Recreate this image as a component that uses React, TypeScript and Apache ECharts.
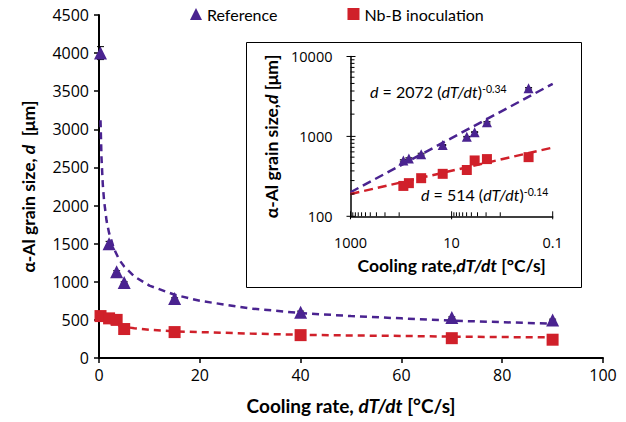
import React, { useEffect, useRef } from "react";
import * as echarts from "echarts";

// ---- data ----
const coolingRates = [0.3, 2, 3.5, 5, 15, 40, 70, 90];
const refGrain = [4000, 1500, 1130, 990, 780, 600, 530, 500];
const refErr = [85, 30, 15, 10, 10, 15, 10, 10];
const nbGrain = [550, 520, 500, 380, 340, 300, 260, 240];
const nbErr = [10, 10, 10, 10, 10, 10, 10, 10];

// dashed fit curves in the main plot
const fitX = [0.3, 0.5, 0.75, 1, 1.5, 2, 3, 4, 5, 7, 10, 15, 20, 30, 40, 50, 60, 70, 80, 90];
const refFitY = [3120, 2620, 2280, 2070, 1800, 1640, 1430, 1290, 1200, 1070, 950, 830, 750, 650, 590, 550, 520, 490, 470, 450];
const nbFitY = [610, 570, 540, 514, 485, 465, 440, 425, 410, 390, 370, 350, 340, 320, 305, 295, 290, 280, 275, 270];

// straight fit lines in the log-log inset (end points)
const insetFitX = [1000, 0.1];
const insetRefFitY = [200, 4550];
const insetNbFitY = [190, 725];

const xTicksMain = { min: 0, max: 100, interval: 20 };
const yTicksMain = { min: 0, max: 4500, interval: 500 };
const insetXMajor = [1000, 10, 0.1];
const insetYMajor = [100, 1000, 10000];

const PURPLE = "#4a2390";
const RED = "#d0202a";
const FONT = "Lato, 'Open Sans', sans-serif";
const NUMFONT = "'Open Sans', Lato, sans-serif";

function minorTicks(majors: number[]) {
  const s = [...majors].sort((a, b) => a - b);
  const out: number[] = [];
  for (let i = 0; i < s.length - 1; i++) {
    const a = s[i], b = s[i + 1];
    for (let k = 1; k < 10; k++) out.push(a + (k * (b - a)) / 10);
  }
  return out;
}

const titleStyle = (size: number) => ({
  fontFamily: FONT,
  fontSize: size,
  fontWeight: "bold",
  color: "#000",
  rich: { i: { fontFamily: FONT, fontSize: size, fontStyle: "italic", color: "#000" } },
});

export default function App() {
  const ref = useRef<HTMLDivElement>(null);
  useEffect(() => {
    if (!ref.current) return;
    const chart = echarts.init(ref.current, null, { renderer: "svg" });

    const refPts = coolingRates.map((x, i) => [x, refGrain[i]]);
    const nbPts = coolingRates.map((x, i) => [x, nbGrain[i]]);
    const refErrPts = coolingRates.map((x, i) => [x, refGrain[i], refErr[i]]);
    const nbErrPts = coolingRates.map((x, i) => [x, nbGrain[i], nbErr[i]]);

    const errRender = (params: any, api: any) => {
      const x = api.value(0), y = api.value(1), e = api.value(2);
      const hi = api.coord([x, y + e]);
      const lo = api.coord([x, y - e]);
      const w = 3.5;
      const st = { stroke: "#000", lineWidth: 1 };
      return {
        type: "group",
        children: [
          { type: "line", shape: { x1: hi[0], y1: hi[1], x2: lo[0], y2: lo[1] }, style: st },
          { type: "line", shape: { x1: hi[0] - w, y1: hi[1], x2: hi[0] + w, y2: hi[1] }, style: st },
          { type: "line", shape: { x1: lo[0] - w, y1: lo[1], x2: lo[0] + w, y2: lo[1] }, style: st },
        ],
      };
    };

    const xTickData = [
      ...insetXMajor.map((v) => [v, 1]),
      ...minorTicks(insetXMajor).map((v) => [v, 0]),
    ];
    const yTickData = [
      ...insetYMajor.map((v) => [v, 1]),
      ...minorTicks(insetYMajor).map((v) => [v, 0]),
    ];

    const xTickRender = (params: any, api: any) => {
      const v = api.value(0), major = api.value(1);
      const p = api.coord([v, 100]);
      return {
        type: "line",
        shape: { x1: p[0], y1: p[1] + (major ? 3 : 0), x2: p[0], y2: p[1] - (major ? 5 : 4) },
        style: { stroke: "#000", lineWidth: 1 },
      };
    };
    const yTickRender = (params: any, api: any) => {
      const v = api.value(0), major = api.value(1);
      const p = api.coord([1000, v]);
      return {
        type: "line",
        shape: { x1: p[0] - (major ? 4 : 0), y1: p[1], x2: p[0] + (major ? 5 : 4), y2: p[1] },
        style: { stroke: "#000", lineWidth: 1 },
      };
    };

    const eqRich = (color: string) => ({
      n: { fontFamily: FONT, fontSize: 16, color },
      i: { fontFamily: FONT, fontSize: 16, fontStyle: "italic", color },
      s: { fontFamily: FONT, fontSize: 10.5, color, verticalAlign: "top", lineHeight: 14 },
    });

    chart.setOption({
      animation: false,
      backgroundColor: "#fff",
      textStyle: { fontFamily: FONT },
      legend: {
        data: ["Reference", "Nb-B inoculation"],
        left: 190,
        top: 6,
        padding: 0,
        itemWidth: 12,
        itemHeight: 12,
        itemGap: 70,
        textStyle: { fontFamily: FONT, fontSize: 16, color: "#000" },
      },
      grid: [
        { left: 99, right: 23, top: 15, bottom: 64 },
        { left: 350.5, right: 73.3, top: 56.5, bottom: 205.7 },
      ],
      graphic: [
        {
          type: "rect",
          z: 0,
          shape: { x: 246.5, y: 42.5, width: 335, height: 245 },
          style: { fill: "none", stroke: "#000", lineWidth: 1 },
        },
        {
          type: "text",
          z: 10,
          left: 370,
          top: 83,
          style: {
            text: "{i|d}{n| = 2072 (}{i|dT/dt}{n|)}{s|-0.34}",
            rich: eqRich(PURPLE),
          },
        },
        {
          type: "text",
          z: 10,
          left: 421,
          top: 186,
          style: {
            text: "{i|d}{n| = 514 (}{i|dT/dt}{n|)}{s|-0.14}",
            rich: eqRich(RED),
          },
        },
      ],
      xAxis: [
        {
          type: "value",
          gridIndex: 0,
          ...xTicksMain,
          splitLine: { show: false },
          axisLine: { lineStyle: { color: "#000", width: 2 } },
          axisTick: { lineStyle: { color: "#000", width: 1.5 }, length: 5 },
          axisLabel: { fontFamily: NUMFONT, fontSize: 16, color: "#000", margin: 9 },
          name: "Cooling rate, {i|dT/dt} [°C/s]",
          nameLocation: "middle",
          nameGap: 38,
          nameTextStyle: titleStyle(19),
        },
        {
          type: "log",
          gridIndex: 1,
          logBase: 10,
          min: 0.1,
          max: 1000,
          inverse: true,
          splitLine: { show: false },
          axisLine: { lineStyle: { color: "#000", width: 1.5 } },
          axisTick: { show: false },
          minorTick: { show: false },
          axisLabel: {
            fontFamily: NUMFONT,
            fontSize: 14.5,
            color: "#000",
            margin: 19,
            formatter: (v: number) => {
              const e = Math.round(Math.log10(v));
              return Math.abs(e % 2) === 1 ? String(v) : "";
            },
          },
          name: "Cooling rate,{i|dT/dt} [°C/s]",
          nameLocation: "middle",
          nameGap: 40,
          nameTextStyle: titleStyle(17.5),
        },
      ],
      yAxis: [
        {
          type: "value",
          gridIndex: 0,
          ...yTicksMain,
          splitLine: { show: false },
          axisLine: { show: true, lineStyle: { color: "#000", width: 2 } },
          axisTick: { show: true, lineStyle: { color: "#000", width: 1.5 }, length: 5 },
          axisLabel: {
            fontFamily: NUMFONT,
            fontSize: 16,
            color: "#000",
            margin: 10,
            formatter: (v: number) => String(v),
          },
          name: "α-Al grain size, {i|d}  [μm]",
          nameLocation: "middle",
          nameGap: 62,
          nameTextStyle: titleStyle(17.5),
        },
        {
          type: "log",
          gridIndex: 1,
          logBase: 10,
          min: 100,
          max: 10000,
          splitLine: { show: false },
          axisLine: { show: true, lineStyle: { color: "#000", width: 1.5 } },
          axisTick: { show: false },
          axisLabel: {
            fontFamily: NUMFONT,
            fontSize: 14.5,
            color: "#000",
            margin: 18,
            formatter: (v: number) => String(Math.round(v)),
          },
          name: "α-Al grain size,{i|d} [μm]",
          nameLocation: "middle",
          nameGap: 70,
          nameTextStyle: titleStyle(17.5),
        },
      ],
      series: [
        // main plot
        {
          name: "refFit",
          type: "line",
          xAxisIndex: 0,
          yAxisIndex: 0,
          data: fitX.map((x, i) => [x, refFitY[i]]),
          showSymbol: false,
          symbol: "none",
          lineStyle: { color: PURPLE, width: 2.5, type: [7, 5] },
          z: 2,
          silent: true,
        },
        {
          name: "nbFit",
          type: "line",
          xAxisIndex: 0,
          yAxisIndex: 0,
          data: fitX.map((x, i) => [x, nbFitY[i]]),
          showSymbol: false,
          symbol: "none",
          lineStyle: { color: RED, width: 2.5, type: [7, 5] },
          z: 2,
          silent: true,
        },
        {
          name: "refErr",
          type: "custom",
          xAxisIndex: 0,
          yAxisIndex: 0,
          data: refErrPts,
          renderItem: errRender,
          z: 1,
          silent: true,
        },
        {
          name: "nbErr",
          type: "custom",
          xAxisIndex: 0,
          yAxisIndex: 0,
          data: nbErrPts,
          renderItem: errRender,
          z: 1,
          silent: true,
        },
        {
          name: "Reference",
          type: "scatter",
          xAxisIndex: 0,
          yAxisIndex: 0,
          data: refPts,
          symbol: "triangle",
          symbolSize: 13,
          itemStyle: { color: PURPLE, opacity: 1 },
          z: 10,
        },
        {
          name: "Nb-B inoculation",
          type: "scatter",
          xAxisIndex: 0,
          yAxisIndex: 0,
          data: nbPts,
          symbol: "rect",
          symbolSize: 12,
          itemStyle: { color: RED, opacity: 1 },
          z: 10,
        },
        // inset
        {
          name: "insetTicksX",
          type: "custom",
          xAxisIndex: 1,
          yAxisIndex: 1,
          data: xTickData,
          renderItem: xTickRender,
          z: 5,
          silent: true,
        },
        {
          name: "insetTicksY",
          type: "custom",
          xAxisIndex: 1,
          yAxisIndex: 1,
          data: yTickData,
          renderItem: yTickRender,
          z: 5,
          silent: true,
        },
        {
          name: "insetRefFit",
          type: "line",
          xAxisIndex: 1,
          yAxisIndex: 1,
          data: insetFitX.map((x, i) => [x, insetRefFitY[i]]),
          showSymbol: false,
          symbol: "none",
          lineStyle: { color: PURPLE, width: 2.5, type: [9, 5] },
          z: 3,
          silent: true,
        },
        {
          name: "insetNbFit",
          type: "line",
          xAxisIndex: 1,
          yAxisIndex: 1,
          data: insetFitX.map((x, i) => [x, insetNbFitY[i]]),
          showSymbol: false,
          symbol: "none",
          lineStyle: { color: RED, width: 2.5, type: [9, 5] },
          z: 3,
          silent: true,
        },
        {
          name: "insetRefErr",
          type: "custom",
          xAxisIndex: 1,
          yAxisIndex: 1,
          data: refErrPts,
          renderItem: errRender,
          z: 1,
          silent: true,
        },
        {
          name: "insetNbErr",
          type: "custom",
          xAxisIndex: 1,
          yAxisIndex: 1,
          data: nbErrPts,
          renderItem: errRender,
          z: 1,
          silent: true,
        },
        {
          name: "Reference",
          type: "scatter",
          xAxisIndex: 1,
          yAxisIndex: 1,
          data: refPts,
          symbol: "triangle",
          symbolSize: 10,
          itemStyle: { color: PURPLE, opacity: 1 },
          z: 10,
        },
        {
          name: "Nb-B inoculation",
          type: "scatter",
          xAxisIndex: 1,
          yAxisIndex: 1,
          data: nbPts,
          symbol: "rect",
          symbolSize: 10,
          itemStyle: { color: RED, opacity: 1 },
          z: 10,
        },
      ],
    });
    return () => chart.dispose();
  }, []);

  return (
    <div
      ref={ref}
      style={{ position: "fixed", left: 0, top: 0, width: 626, height: 422, background: "#fff" }}
    />
  );
}
